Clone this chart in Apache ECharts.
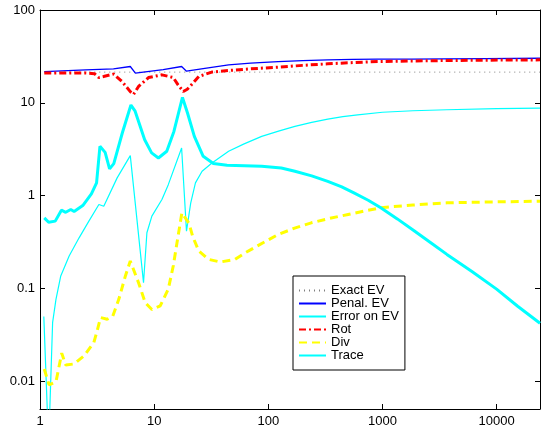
<!DOCTYPE html>
<html>
<head>
<meta charset="utf-8">
<script src="https://cdn.jsdelivr.net/npm/echarts@6/dist/echarts.min.js"></script>
<style>
html,body{margin:0;padding:0;background:#fff;}
#c{width:543px;height:432px;}
</style>
</head>
<body>
<div id="c"></div>
<script>
// ---- data ----
const xTickLabels = ['1', '10', '100', '1000', '10000'];
const yTickLabels = ['0.01', '0.1', '1', '10', '100'];

const exactX = [1.09, 24000];
const exactY = [21.4, 21.4];

const penalX = [1.09, 2.51, 4.4, 6.18, 6.85, 12, 17.4, 19.2, 27.8, 44.9, 70, 122, 200, 332, 550, 906, 1800, 3440, 8000, 24000];
const penalY = [21.7, 22.6, 23.2, 24.6, 20.9, 22.8, 24.6, 21.9, 23.5, 25.6, 26.8, 27.8, 28.5, 29, 29.3, 29.5, 29.6, 29.7, 29.9, 30.2];

const errorX = [1.08, 1.19, 1.29, 1.38, 1.52, 1.8, 2.2, 2.68, 3.28, 3.39, 3.62, 4.74, 6.18, 8.07, 8.64, 9.55, 11.7, 13.3, 17.4, 19.2, 20.9, 23, 26.3, 32.1, 44.9, 60.7, 87.5, 125, 171, 240, 332, 450, 606, 1000, 1850, 3670, 10000, 24000];
const errorY = [0.0496, 0.002, 0.043, 0.076, 0.136, 0.223, 0.35, 0.53, 0.8, 0.835, 0.767, 1.55, 2.69, 0.115, 0.397, 0.6, 0.906, 1.31, 3.26, 0.413, 0.83, 1.37, 1.83, 2.24, 3.0, 3.58, 4.34, 4.98, 5.56, 6.15, 6.67, 7.1, 7.42, 7.9, 8.2, 8.41, 8.65, 8.77];

const rotX = [1.09, 2.51, 3.0, 3.28, 3.6, 4.42, 5.24, 6.18, 6.6, 7.3, 8.92, 11.7, 14.7, 16.2, 18, 19.5, 21.2, 24.6, 32, 45, 62.8, 122, 200, 332, 550, 906, 1800, 3440, 8000, 24000];
const rotY = [20.9, 20.9, 20.6, 18.7, 19.2, 20.4, 16.9, 13.2, 12.3, 15, 18.7, 20, 18.7, 15.6, 13.2, 14, 15.6, 19.2, 21.4, 22.3, 23, 24.2, 25.3, 26.3, 27.1, 27.8, 28.2, 28.5, 28.8, 29];

const divX = [1.09, 1.2, 1.38, 1.55, 1.68, 1.99, 2.43, 2.96, 3.17, 3.39, 3.88, 4.34, 4.9, 5.6, 6.18, 7.3, 8.35, 9.55, 11.3, 13.3, 14.7, 16.2, 17.5, 20.2, 21.8, 24.6, 30, 38, 51, 63, 90, 122, 170, 238, 340, 500, 967, 1850, 3670, 10000, 24000];
const divY = [0.0135, 0.0091, 0.0098, 0.02, 0.0149, 0.0153, 0.0187, 0.026, 0.035, 0.0484, 0.0464, 0.05, 0.076, 0.136, 0.197, 0.115, 0.07, 0.059, 0.0645, 0.098, 0.174, 0.365, 0.65, 0.5, 0.36, 0.252, 0.205, 0.192, 0.205, 0.242, 0.31, 0.38, 0.445, 0.508, 0.565, 0.625, 0.74, 0.79, 0.835, 0.855, 0.869];

const traceX = [1.09, 1.19, 1.36, 1.54, 1.68, 1.86, 1.99, 2.37, 2.82, 3.13, 3.35, 3.72, 4.07, 4.43, 5.26, 6.26, 6.79, 8.26, 9.5, 10.9, 12.9, 14.9, 17.7, 19.6, 22.5, 26.9, 33, 43.5, 87.5, 130, 171, 240, 332, 440, 568, 750, 967, 1350, 1880, 2650, 3670, 6080, 10000, 15300, 24000];
const traceY = [0.575, 0.516, 0.53, 0.695, 0.66, 0.707, 0.673, 0.78, 1.04, 1.37, 3.39, 2.92, 1.94, 2.21, 4.72, 9.45, 8.2, 4.0, 2.88, 2.54, 3.0, 4.91, 11.4, 7.75, 4.34, 2.65, 2.21, 2.12, 2.07, 1.98, 1.83, 1.63, 1.42, 1.24, 1.06, 0.89, 0.737, 0.56, 0.42, 0.31, 0.232, 0.152, 0.098, 0.064, 0.042];

// ---- helpers ----
const zip = (xs, ys) => xs.map((x, i) => [x, ys[i]]);
const FONT = 'Liberation Sans, Arial, sans-serif';
function labelFrom(list, start) {
  return function (v) {
    const e = Math.log10(v);
    const r = Math.round(e);
    if (Math.abs(e - r) > 1e-6) return '';
    const idx = r - start;
    return (idx >= 0 && idx < list.length) ? list[idx] : '';
  };
}
const tick = { inside: true, length: 5, lineStyle: { color: '#000', width: 1 } };
const line = { show: true, onZero: false, lineStyle: { color: '#000', width: 1 } };
const lbl = { color: '#000', fontSize: 13, fontFamily: FONT };

const chart = echarts.init(document.getElementById('c'), null, { renderer: 'canvas' });
chart.setOption({
  animation: false,
  backgroundColor: '#fff',
  grid: { left: 40, right: -1, top: 10, bottom: 23, containLabel: false },
  legend: {
    orient: 'vertical',
    left: 293, top: 276,
    padding: [8, 6, 8, 5],
    itemGap: 0,
    itemWidth: 27,
    itemHeight: 14,
    backgroundColor: '#fff',
    borderColor: '#000',
    borderWidth: 1,
    selectedMode: false,
    itemStyle: { opacity: 0 },
    textStyle: { color: '#000', fontSize: 13, fontFamily: FONT, padding: [0, 0, 0, 0] },
    data: ['Exact EV', 'Penal. EV', 'Error on EV', 'Rot', 'Div', 'Trace']
  },
  xAxis: [
    { type: 'log', logBase: 10, min: 1, max: 24000, position: 'bottom',
      axisLine: line, axisTick: tick, splitLine: { show: false },
      axisLabel: Object.assign({ margin: 6, formatter: labelFrom(xTickLabels, 0) }, lbl) },
    { type: 'log', logBase: 10, min: 1, max: 24000, position: 'top',
      axisLine: line, axisTick: tick, splitLine: { show: false },
      axisLabel: { show: false } }
  ],
  yAxis: [
    { type: 'log', logBase: 10, min: 0.005, max: 100, position: 'left',
      axisLine: line, axisTick: tick, splitLine: { show: false },
      axisLabel: Object.assign({ margin: 5, formatter: labelFrom(yTickLabels, -2) }, lbl) },
    { type: 'log', logBase: 10, min: 0.005, max: 100, position: 'right',
      axisLine: line, axisTick: tick, splitLine: { show: false },
      axisLabel: { show: false } }
  ],
  series: [
    { name: 'Exact EV', type: 'line', data: zip(exactX, exactY), symbol: 'none', clip: true,
      lineStyle: { color: '#808080', width: 1, type: [1, 4] }, itemStyle: { color: '#808080' } },
    { name: 'Penal. EV', type: 'line', data: zip(penalX, penalY), symbol: 'none', clip: true,
      lineStyle: { color: '#0000ff', width: 1.3 }, itemStyle: { color: '#0000ff' } },
    { name: 'Error on EV', type: 'line', data: zip(errorX, errorY), symbol: 'none', clip: true,
      lineStyle: { color: '#00ffff', width: 1.2 }, itemStyle: { color: '#00ffff' } },
    { name: 'Rot', type: 'line', data: zip(rotX, rotY), symbol: 'none', clip: true,
      lineStyle: { color: '#ff0000', width: 3, type: [7, 3, 2, 3] }, itemStyle: { color: '#ff0000' } },
    { name: 'Div', type: 'line', data: zip(divX, divY), symbol: 'none', clip: true,
      lineStyle: { color: '#ffff00', width: 3, type: [8, 5] }, itemStyle: { color: '#ffff00' } },
    { name: 'Trace', type: 'line', data: zip(traceX, traceY), symbol: 'none', clip: true,
      lineStyle: { color: '#00ffff', width: 3 }, itemStyle: { color: '#00ffff' } }
  ]
});
</script>
</body>
</html>
